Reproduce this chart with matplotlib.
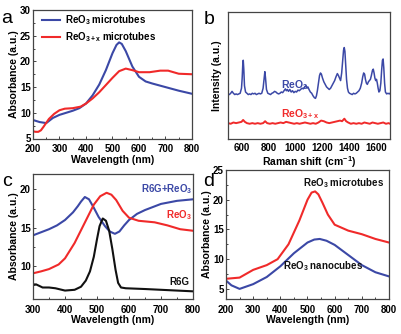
import matplotlib
matplotlib.use("Agg")
import matplotlib.pyplot as plt
from matplotlib.ticker import MultipleLocator, NullLocator

plt.rcParams['font.family'] = ['Liberation Sans', 'DejaVu Sans']
plt.rcParams['font.weight'] = 'bold'
plt.rcParams['mathtext.fontset'] = 'custom'
plt.rcParams['mathtext.rm'] = 'Liberation Sans:bold'
plt.rcParams['mathtext.bf'] = 'Liberation Sans:bold'
plt.rcParams['mathtext.it'] = 'Liberation Sans:bold'
plt.rcParams['mathtext.default'] = 'bf'

BLUE = '#3b48a6'
RED = '#f02a2a'
BLACK = '#111111'

# ---------------- Panel a ----------------
a_wl = [200, 225, 250, 275, 300, 325, 350, 375, 400, 425, 450, 475, 500, 515, 525, 535, 550, 575, 600, 625, 650, 700, 750, 800]
a_reo3 = [8.6, 8.2, 8.0, 9.0, 9.6, 10.0, 10.4, 10.9, 11.8, 13.4, 15.5, 18.3, 21.6, 23.2, 23.7, 23.4, 22.0, 19.0, 17.0, 16.1, 15.7, 15.0, 14.3, 13.7]
a_wl2 = [200, 210, 220, 230, 240, 260, 280, 300, 320, 350, 380, 400, 425, 450, 475, 500, 525, 550, 575, 600, 640, 680, 710, 730, 750, 800]
a_reo3x = [6.4, 6.3, 6.3, 6.6, 7.3, 8.8, 9.8, 10.5, 10.8, 10.9, 11.2, 11.8, 12.8, 14.0, 15.4, 16.8, 18.1, 18.6, 18.3, 17.9, 17.9, 18.2, 18.2, 17.9, 17.6, 17.5]

# ---------------- Panel b (Raman) ----------------
b_shift = [500, 510, 520, 530, 540, 550, 560, 570, 580, 590, 600, 605, 610, 613, 617, 622, 630, 640, 650, 660,
           670, 680, 690, 700, 710, 720, 730, 740, 750, 760, 767, 773, 778, 785, 795, 805, 815, 825, 835, 845,
           855, 865, 875, 885, 895, 905, 915, 925, 932, 940, 948, 958, 968, 978, 988, 998, 1008, 1018, 1028, 1038,
           1048, 1058, 1068, 1078, 1085, 1092, 1100, 1110, 1120, 1130, 1140, 1148, 1155, 1162, 1170, 1178, 1185, 1192, 1200, 1210,
           1220, 1230, 1240, 1250, 1260, 1270, 1280, 1290, 1300, 1310, 1318, 1326, 1334, 1342, 1350, 1356, 1361, 1366, 1372, 1378,
           1385, 1392, 1400, 1410, 1420, 1430, 1440, 1450, 1460, 1470, 1480, 1490, 1498, 1505, 1512, 1518, 1525, 1532, 1540, 1548,
           1555, 1562, 1570, 1576, 1582, 1588, 1594, 1600, 1606, 1612, 1618, 1625, 1632, 1638, 1644, 1649, 1654, 1660, 1666, 1675,
           1685, 1695, 1700]
b_reo3 = [0.35, 0.35, 0.36, 0.375, 0.36, 0.35, 0.355, 0.35, 0.355, 0.36, 0.40, 0.48, 0.60, 0.62, 0.55, 0.42, 0.37, 0.36, 0.35, 0.355,
          0.35, 0.36, 0.355, 0.36, 0.35, 0.355, 0.36, 0.355, 0.36, 0.40, 0.47, 0.53, 0.48, 0.39, 0.36, 0.355, 0.35, 0.36, 0.365, 0.375,
          0.37, 0.36, 0.355, 0.36, 0.37, 0.365, 0.38, 0.395, 0.38, 0.39, 0.375, 0.39, 0.37, 0.38, 0.365, 0.375, 0.37, 0.385, 0.38, 0.39,
          0.40, 0.395, 0.41, 0.42, 0.40, 0.41, 0.39, 0.37, 0.36, 0.34, 0.325, 0.32, 0.34, 0.38, 0.44, 0.50, 0.52, 0.51, 0.48, 0.45,
          0.43, 0.41, 0.40, 0.39, 0.40, 0.42, 0.44, 0.46, 0.49, 0.515, 0.50, 0.48, 0.46, 0.52, 0.62, 0.70, 0.72, 0.69, 0.58, 0.47,
          0.40, 0.37, 0.36, 0.355, 0.35, 0.36, 0.355, 0.36, 0.37, 0.38, 0.40, 0.44, 0.49, 0.52, 0.51, 0.47, 0.44, 0.43, 0.45, 0.46,
          0.47, 0.50, 0.54, 0.55, 0.52, 0.48, 0.46, 0.47, 0.44, 0.40, 0.37, 0.38, 0.44, 0.54, 0.62, 0.63, 0.56, 0.44, 0.37, 0.355,
          0.36, 0.355, 0.36]
b_shift2 = [500, 520, 540, 560, 580, 600, 612, 625, 640, 660, 680, 700, 720, 740, 760, 775, 790, 810, 830, 850,
            870, 890, 910, 930, 950, 970, 990, 1010, 1030, 1050, 1070, 1090, 1110, 1130, 1150, 1170, 1190, 1210, 1230, 1250,
            1270, 1290, 1310, 1330, 1345, 1362, 1375, 1390, 1410, 1430, 1450, 1470, 1490, 1510, 1530, 1550, 1570, 1590, 1610, 1630,
            1650, 1670, 1690, 1700]
b_reo3x = [0.125, 0.12, 0.13, 0.125, 0.13, 0.135, 0.15, 0.135, 0.125, 0.12, 0.125, 0.12, 0.125, 0.12, 0.125, 0.14, 0.125, 0.12, 0.125, 0.12,
           0.125, 0.13, 0.125, 0.135, 0.13, 0.125, 0.12, 0.125, 0.12, 0.125, 0.13, 0.125, 0.12, 0.125, 0.12, 0.13, 0.145, 0.14, 0.13, 0.125,
           0.13, 0.135, 0.14, 0.145, 0.14, 0.16, 0.14, 0.13, 0.12, 0.125, 0.12, 0.125, 0.12, 0.13, 0.125, 0.12, 0.13, 0.125, 0.12, 0.125,
           0.13, 0.12, 0.125, 0.12]

# ---------------- Panel c ----------------
c_wl = [300, 325, 350, 375, 400, 425, 440, 450, 462, 475, 490, 505, 525, 540, 556, 570, 585, 600, 625, 650, 700, 750, 800]
c_mix = [14.0, 14.4, 14.8, 15.3, 16.0, 17.0, 17.8, 18.4, 19.0, 18.7, 17.6, 16.4, 15.2, 14.5, 14.2, 14.5, 15.3, 16.0, 16.8, 17.3, 18.1, 18.5, 18.7]
c_wl2 = [300, 325, 350, 380, 400, 430, 460, 490, 510, 530, 545, 560, 580, 600, 630, 680, 720, 760, 800]
c_reo3 = [9.05, 9.3, 9.6, 10.2, 11.0, 13.0, 15.5, 18.0, 19.1, 19.55, 19.3, 18.6, 17.2, 16.3, 15.9, 15.7, 15.3, 14.8, 14.6]
c_wl3 = [300, 310, 330, 350, 370, 400, 430, 450, 465, 478, 490, 500, 508, 518, 528, 538, 548, 558, 566, 575, 590, 650, 700, 800]
c_r6g = [7.6, 7.6, 7.2, 7.2, 7.1, 6.8, 6.9, 7.3, 8.1, 9.3, 11.2, 13.5, 15.2, 16.2, 15.9, 14.6, 12.2, 9.5, 7.8, 7.2, 7.1, 7.0, 6.9, 6.7]

# ---------------- Panel d ----------------
d_wl = [200, 250, 300, 350, 390, 430, 470, 500, 515, 528, 540, 555, 575, 600, 650, 700, 750, 800]
d_micro = [6.7, 6.9, 8.2, 9.0, 10.0, 12.5, 16.5, 20.0, 21.2, 21.4, 20.9, 19.5, 17.5, 15.8, 14.8, 14.2, 13.4, 12.8]
d_wl2 = [200, 220, 250, 300, 350, 400, 450, 500, 525, 545, 570, 600, 650, 700, 750, 800]
d_nano = [6.4, 5.6, 5.0, 5.8, 7.0, 8.8, 11.0, 12.8, 13.3, 13.4, 13.1, 12.4, 10.7, 9.0, 7.8, 7.1]

W, H = 402, 334
fig = plt.figure(figsize=(W / 100, H / 100), dpi=100)


def mk_axes(l, r, t, b):
    return fig.add_axes([l / W, 1 - b / H, (r - l) / W, (b - t) / H])


def style(ax, minor_x=None, minor_y=None):
    for s in ax.spines.values():
        s.set_color('#444444')
        s.set_linewidth(0.9)
    ax.tick_params(which='both', direction='in', labelsize=7, width=0.7, colors='#444444', labelcolor='black')
    ax.tick_params(axis='x', pad=4)
    ax.tick_params(axis='y', pad=1.5)
    ax.tick_params(which='major', length=2.5)
    ax.tick_params(which='minor', length=1.5)
    if minor_x:
        ax.xaxis.set_minor_locator(MultipleLocator(minor_x))
    if minor_y:
        ax.yaxis.set_minor_locator(MultipleLocator(minor_y))
    for lab in ax.get_xticklabels() + ax.get_yticklabels():
        lab.set_fontweight('bold')


LW = 1.5

# a
ax = mk_axes(33, 192, 10, 138.5)
ax.plot(a_wl, a_reo3, color=BLUE, lw=LW, label=r'ReO$_3$ microtubes')
ax.plot(a_wl2, a_reo3x, color=RED, lw=LW, label=r'ReO$_{3+x}$ microtubes')
ax.set_xlim(200, 800)
ax.set_ylim(5, 30)
ax.set_xticks([200, 300, 400, 500, 600, 700, 800])
ax.set_yticks([5, 10, 15, 20, 25, 30])
style(ax, 50, 2.5)
ax.set_xlabel('Wavelength (nm)', fontsize=7.5, fontweight='bold', labelpad=0.5)
ax.set_ylabel('Absorbance (a.u.)', fontsize=7.5, fontweight='bold', labelpad=1)
leg = ax.legend(loc='upper left', frameon=False, fontsize=7, handlelength=1.9, handletextpad=0.5,
                borderaxespad=0.2, labelspacing=0.35, bbox_to_anchor=(0.02, 1.02))
for t in leg.get_texts():
    t.set_fontweight('bold')
fig.text(1 / W, 1 - 23 / H, 'a', fontsize=14, fontweight='normal')

# b
ax = mk_axes(228, 390, 12, 139)
ax.plot(b_shift, b_reo3, color=BLUE, lw=1.1)
ax.plot(b_shift2, b_reo3x, color=RED, lw=1.4)
ax.set_xlim(500, 1700)
ax.set_ylim(0, 1)
ax.set_xticks([600, 800, 1000, 1200, 1400, 1600])
ax.yaxis.set_major_locator(NullLocator())
style(ax)
ax.tick_params(axis='x', length=0, pad=3)
ax.set_xlabel(r'Raman shift (cm$^{-1}$)', fontsize=7.5, fontweight='bold', labelpad=1)
ax.set_ylabel('Intensity (a.u.)', fontsize=7.5, fontweight='bold', labelpad=4)
ax.text(895, 0.40, r'ReO$_3$', color=BLUE, fontsize=7.5, fontweight='bold')
ax.text(895, 0.17, r'ReO$_{3+x}$', color=RED, fontsize=7.5, fontweight='bold')
fig.text(204 / W, 1 - 24 / H, 'b', fontsize=14, fontweight='normal')

# c
ax = mk_axes(33, 193, 174, 299)
ax.plot(c_wl, c_mix, color=BLUE, lw=LW)
ax.plot(c_wl2, c_reo3, color=RED, lw=LW)
ax.plot(c_wl3, c_r6g, color=BLACK, lw=LW)
ax.set_xlim(300, 800)
ax.set_ylim(5.7, 22)
ax.set_xticks([300, 400, 500, 600, 700, 800])
ax.set_yticks([10, 15, 20])
style(ax, 50, 2.5)
ax.set_xlabel('Wavelength (nm)', fontsize=7.5, fontweight='bold', labelpad=0.5)
ax.set_ylabel('Absorbance (a.u.)', fontsize=7.5, fontweight='bold', labelpad=1)
ax.text(797, 19.1, r'R6G+ReO$_3$', color=BLUE, fontsize=7, fontweight='bold', ha='right', va='bottom')
ax.text(797, 15.8, r'ReO$_3$', color=RED, fontsize=7, fontweight='bold', ha='right', va='bottom')
ax.text(790, 7.2, 'R6G', color=BLACK, fontsize=7, fontweight='bold', ha='right', va='bottom')
fig.text(2 / W, 1 - 186 / H, 'c', fontsize=14, fontweight='normal')

# d
ax = mk_axes(226, 389, 170, 299)
ax.plot(d_wl, d_micro, color=RED, lw=LW)
ax.plot(d_wl2, d_nano, color=BLUE, lw=LW)
ax.set_xlim(200, 800)
ax.set_ylim(3.3, 25)
ax.set_xticks([200, 300, 400, 500, 600, 700, 800])
ax.set_yticks([5, 10, 15, 20, 25])
style(ax, 50, 2.5)
ax.set_xlabel('Wavelength (nm)', fontsize=7.5, fontweight='bold', labelpad=0.5)
ax.set_ylabel('Absorbance (a.u.)', fontsize=7.5, fontweight='bold', labelpad=1)
ax.text(485, 22.2, r'ReO$_3$ microtubes', color=BLACK, fontsize=7, fontweight='bold')
ax.text(410, 8.3, r'ReO$_3$ nanocubes', color=BLACK, fontsize=7, fontweight='bold')
fig.text(203 / W, 1 - 186 / H, 'd', fontsize=14, fontweight='normal')

fig.savefig('out.png', dpi=100)
